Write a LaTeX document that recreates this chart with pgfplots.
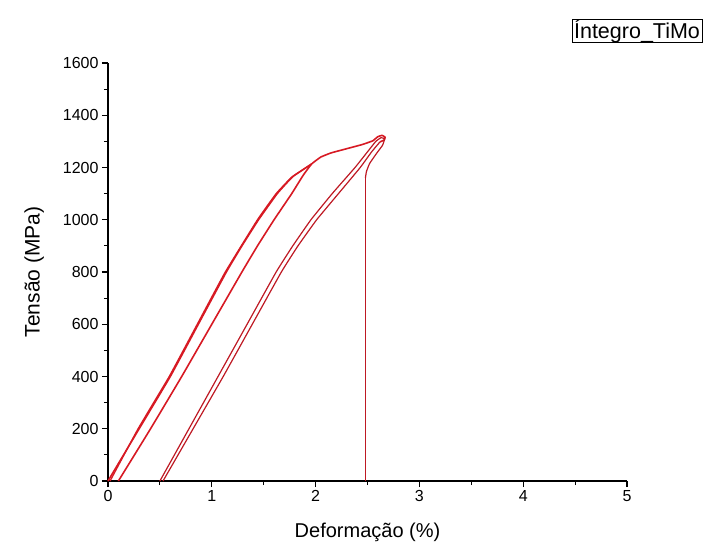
\documentclass[border=0pt]{standalone}
\usepackage{pgfplots}
\pgfplotsset{compat=1.18}
\usepackage{fontspec}
\setmainfont{Liberation Sans}
\definecolor{curve}{RGB}{215,25,35}
\definecolor{curvedark}{RGB}{190,25,35}
\begin{document}
\begin{tikzpicture}[x=1pt,y=1pt]
\path[use as bounding box] (0,0) rectangle (707,547);
\begin{axis}[
  at={(108pt,66pt)}, anchor=south west,
  scale only axis, width=519pt, height=418pt,
  xmin=0, xmax=5, ymin=0, ymax=1600,
  axis x line=bottom, axis y line=left,
  x axis line style={-, line width=1.2pt},
  y axis line style={-, line width=1.2pt},
  xtick={0,1,2,3,4,5}, minor x tick num=1,
  ytick={0,200,...,1600}, minor y tick num=1,
  tick align=outside, major tick length=6pt, minor tick length=4pt,
  every tick/.style={black, line width=1.2pt},
  ticklabel style={font=\fontsize{16}{16}\selectfont},
  /pgf/number format/assume math mode=true,
  /pgf/number format/1000 sep={},
  xlabel={Deformação (\%)}, ylabel={Tensão (MPa)},
  xlabel style={font=\fontsize{20}{20}\selectfont, yshift=-14pt},
  ylabel style={font=\fontsize{21}{21}\selectfont, yshift=12pt},
  clip=false,
]
% loading 1
\addplot[curve, line width=1.6pt, line join=round, smooth, tension=0.2] coordinates {
(0,0) (0.3,200) (0.6,400) (0.87,600) (1.14,800) (1.29,900) (1.45,1000) (1.63,1100) (1.78,1165) (1.96,1213)
};
% unloading 1
\addplot[curve, line width=1.3pt, line join=round, smooth, tension=0.2] coordinates {
(1.96,1213) (1.77,1163) (1.62,1100) (1.44,1000) (1.13,800) (0.86,600) (0.59,400) (0.29,200) (0.02,0)
};
% reloading 2
\addplot[curve, line width=1.6pt, line join=round, smooth, tension=0.2] coordinates {
(0.1,0) (0.41,200) (0.71,400) (1.0,600) (1.29,800) (1.44,900) (1.6,1000) (1.77,1100) (1.88,1170) (1.96,1213)
(2.05,1240) (2.15,1256) (2.3,1272) (2.45,1288) (2.55,1302) (2.6,1318) (2.64,1323) (2.67,1316) (2.66,1305) (2.62,1298)
};
% unloading 2
\addplot[curvedark, line width=1.2pt, line join=round, smooth, tension=0.2] coordinates {
(2.62,1298) (2.54,1260) (2.43,1200) (2.22,1100) (2.01,1000) (1.83,900) (1.67,800) (1.39,600) (1.11,400) (0.82,200) (0.53,0)
};
% reloading 3 and fracture
\addplot[curvedark, line width=1.2pt, line join=round, smooth, tension=0.2] coordinates {
(0.5,0) (0.78,200) (1.06,400) (1.34,600) (1.62,800) (1.78,900) (1.955,1000) (2.16,1100) (2.38,1200) (2.5,1260) (2.58,1300) (2.63,1314) (2.665,1310) (2.645,1285) (2.58,1250) (2.52,1215) (2.49,1185) (2.48,1160)
};
\addplot[curvedark, line width=1.3pt] coordinates {(2.48,1162) (2.48,0)};
\end{axis}
\node[draw=black, line width=0.8pt, inner xsep=2pt, inner ysep=0pt, font=\fontsize{21.5}{21.5}\selectfont] at (637,516) {Íntegro\_TiMo};
\end{tikzpicture}
\end{document}
